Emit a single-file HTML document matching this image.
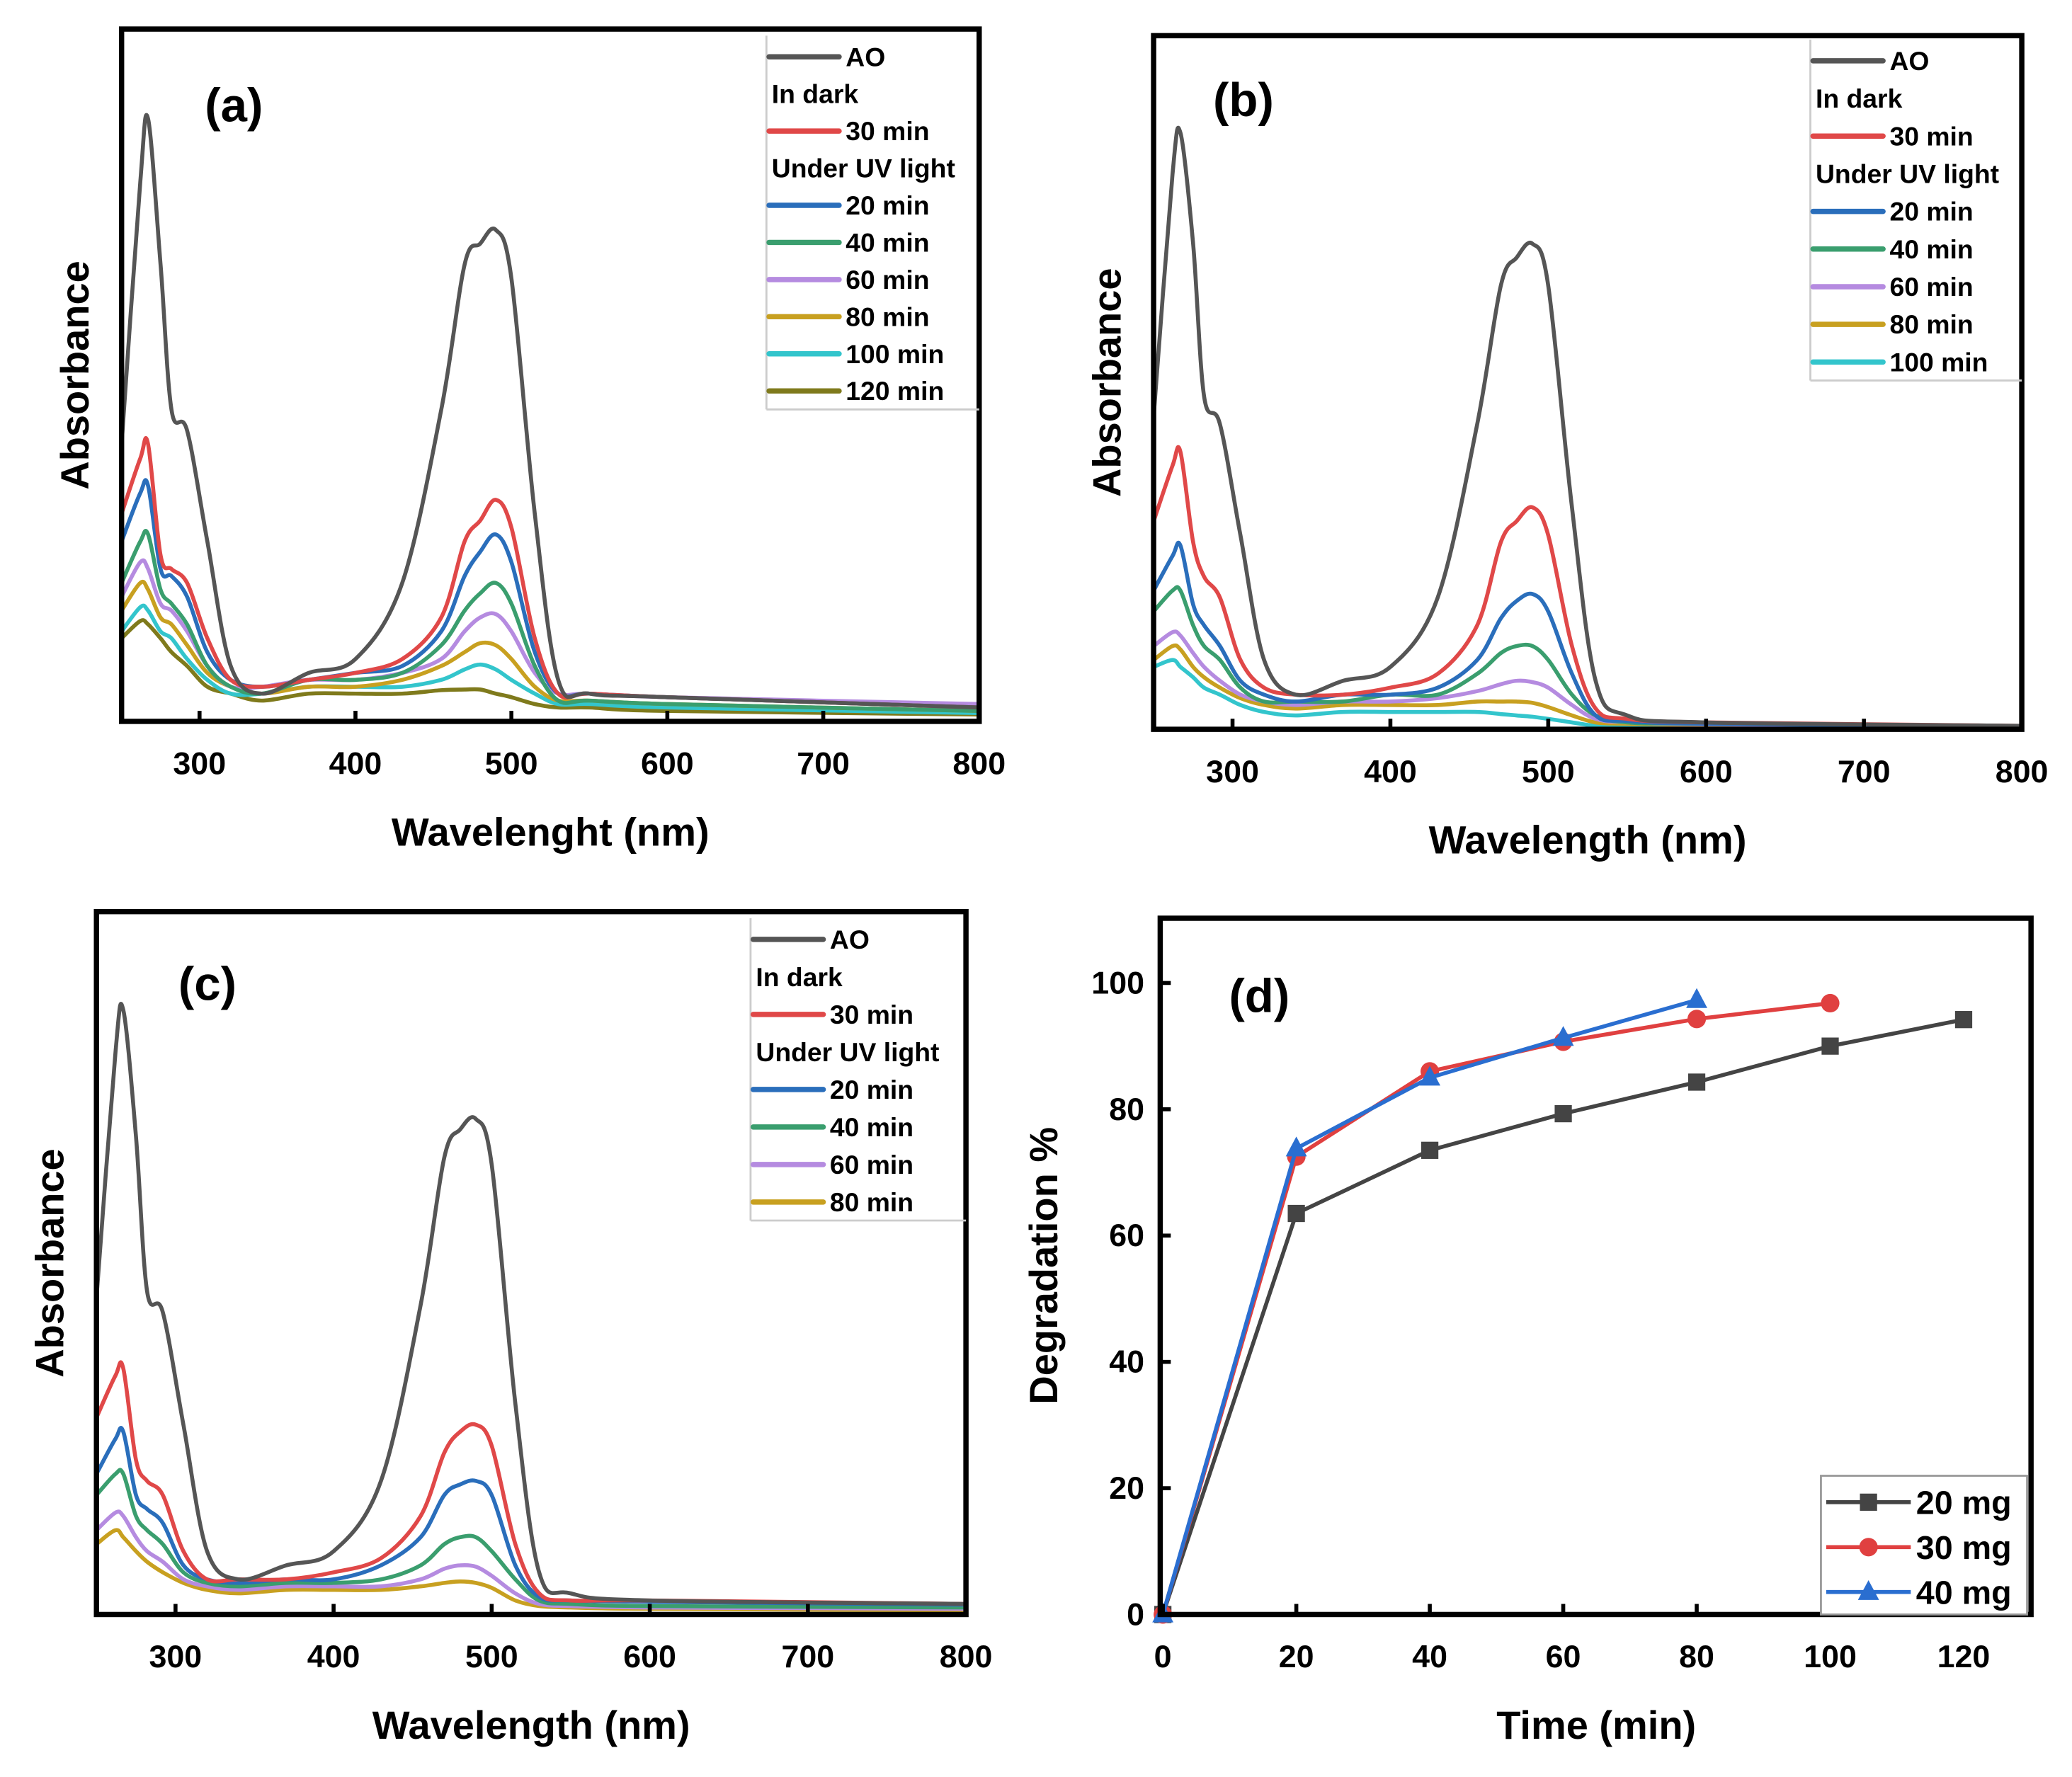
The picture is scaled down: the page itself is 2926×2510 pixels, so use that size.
<!DOCTYPE html>
<html><head><meta charset="utf-8"><style>
html,body{margin:0;padding:0;background:#fff;}
svg{display:block;font-family:"Liberation Sans",Arial,sans-serif;font-weight:bold;}
</style></head><body>
<svg id="fig" width="2926" height="2510" viewBox="0 0 1568 1345" preserveAspectRatio="none" xmlns="http://www.w3.org/2000/svg"></svg>
<script>
// ---- spectra data (relative absorbance 0..1 of frame height) ----
const wl = [250,262,267,275,282,292,305,320,340,370,400,430,455,470,480,490,500,515,530,550,600,800];
const absA_AO  = [0.40,0.78,0.87,0.66,0.45,0.42,0.26,0.08,0.04,0.07,0.09,0.20,0.45,0.66,0.69,0.71,0.64,0.30,0.06,0.04,0.035,0.02];
const absA_30  = [0.30,0.38,0.40,0.24,0.22,0.20,0.12,0.06,0.05,0.06,0.07,0.09,0.15,0.26,0.29,0.32,0.28,0.12,0.04,0.04,0.035,0.02];
const absA_20  = [0.26,0.33,0.34,0.22,0.21,0.18,0.10,0.06,0.05,0.06,0.07,0.08,0.13,0.21,0.245,0.27,0.23,0.10,0.04,0.04,0.035,0.02];
const absA_40  = [0.20,0.26,0.27,0.19,0.17,0.14,0.08,0.05,0.04,0.06,0.06,0.07,0.11,0.16,0.185,0.20,0.17,0.08,0.03,0.03,0.025,0.015];
const absA_60  = [0.18,0.23,0.22,0.17,0.16,0.13,0.08,0.05,0.05,0.06,0.06,0.07,0.09,0.13,0.15,0.155,0.13,0.07,0.04,0.04,0.035,0.025];
const absA_80  = [0.16,0.20,0.19,0.15,0.14,0.11,0.07,0.05,0.04,0.05,0.05,0.06,0.08,0.10,0.113,0.11,0.09,0.05,0.03,0.03,0.025,0.015];
const absA_100 = [0.13,0.165,0.16,0.13,0.12,0.09,0.06,0.04,0.04,0.05,0.05,0.05,0.06,0.075,0.082,0.075,0.06,0.04,0.025,0.025,0.02,0.012];
const absA_120 = [0.12,0.145,0.14,0.12,0.10,0.08,0.05,0.04,0.03,0.04,0.04,0.04,0.045,0.046,0.046,0.04,0.035,0.025,0.02,0.02,0.015,0.01];

const absB_AO  = [0.45,0.80,0.86,0.70,0.48,0.44,0.28,0.10,0.05,0.07,0.09,0.19,0.44,0.64,0.68,0.70,0.64,0.32,0.07,0.02,0.01,0.005];
const absB_30  = [0.30,0.38,0.40,0.27,0.22,0.19,0.10,0.06,0.05,0.05,0.06,0.08,0.15,0.27,0.30,0.32,0.28,0.12,0.03,0.015,0.01,0.005];
const absB_20  = [0.20,0.25,0.265,0.18,0.15,0.12,0.07,0.05,0.04,0.05,0.05,0.06,0.10,0.16,0.185,0.195,0.17,0.08,0.02,0.012,0.008,0.004];
const absB_40  = [0.17,0.20,0.20,0.15,0.12,0.10,0.06,0.04,0.04,0.04,0.05,0.05,0.08,0.11,0.12,0.12,0.10,0.05,0.02,0.01,0.008,0.004];
const absB_60  = [0.12,0.14,0.135,0.11,0.09,0.07,0.05,0.04,0.035,0.04,0.04,0.045,0.055,0.065,0.07,0.068,0.06,0.035,0.015,0.01,0.007,0.004];
const absB_80  = [0.10,0.12,0.115,0.09,0.075,0.06,0.045,0.035,0.03,0.035,0.035,0.035,0.04,0.04,0.04,0.038,0.032,0.02,0.01,0.008,0.006,0.003];
const absB_100 = [0.09,0.10,0.09,0.075,0.06,0.05,0.035,0.025,0.02,0.025,0.025,0.025,0.025,0.022,0.02,0.018,0.015,0.01,0.005,0.004,0.003,0.002];

const absC_AO  = [0.45,0.80,0.86,0.68,0.46,0.43,0.27,0.09,0.05,0.07,0.09,0.19,0.44,0.65,0.69,0.705,0.64,0.30,0.06,0.03,0.02,0.015];
const absC_30  = [0.28,0.34,0.35,0.22,0.19,0.17,0.09,0.05,0.05,0.05,0.06,0.08,0.14,0.23,0.26,0.27,0.24,0.10,0.03,0.02,0.02,0.015];
const absC_20  = [0.20,0.25,0.26,0.17,0.15,0.13,0.07,0.05,0.045,0.05,0.05,0.07,0.11,0.17,0.185,0.19,0.17,0.07,0.025,0.02,0.018,0.014];
const absC_40  = [0.17,0.20,0.20,0.14,0.12,0.10,0.06,0.045,0.04,0.045,0.045,0.05,0.07,0.10,0.11,0.11,0.09,0.05,0.02,0.015,0.012,0.01];
const absC_60  = [0.12,0.145,0.14,0.11,0.09,0.075,0.05,0.04,0.035,0.04,0.04,0.04,0.05,0.065,0.07,0.068,0.055,0.03,0.015,0.012,0.01,0.008];
const absC_80  = [0.10,0.12,0.11,0.09,0.075,0.06,0.045,0.035,0.03,0.035,0.035,0.035,0.04,0.045,0.047,0.045,0.038,0.02,0.012,0.01,0.008,0.006];

// ---- degradation data ----
const timeCats = [0,20,40,60,80,100,120];
const deg20 = [0,63.5,73.5,79.3,84.3,90,94.2];
const deg30 = [0,72.5,86,90.7,94.3,96.8];
const deg40 = [0,73.8,85,91.3,97.3];
const wlTicks = [300,400,500,600,700,800];
const dXTicks = [0,20,40,60,80,100,120];
const dYTicks = [0,20,40,60,80,100];

const colors = {AO:"#555555","30":"#e04848","20":"#2a6ebb","40":"#3a9e6e","60":"#b58be0","80":"#c8a020","100":"#33c5cc","120":"#7f7a1c"};
const NS="http://www.w3.org/2000/svg";
const svg=document.getElementById('fig');
function mk(tag,attrs,parent,text){const e=document.createElementNS(NS,tag);for(const k in attrs)e.setAttribute(k,attrs[k]);if(text!==undefined)e.textContent=text;(parent||svg).appendChild(e);return e;}
function smoothPath(P){
  let d='M'+P[0][0].toFixed(1)+','+P[0][1].toFixed(1);
  for(let i=0;i<P.length-1;i++){
    const p0=P[i-1]||P[i],p1=P[i],p2=P[i+1],p3=P[i+2]||P[i+1];
    const c1=[p1[0]+(p2[0]-p0[0])/6,p1[1]+(p2[1]-p0[1])/6];
    const c2=[p2[0]-(p3[0]-p1[0])/6,p2[1]-(p3[1]-p1[1])/6];
    d+=' C'+c1[0].toFixed(1)+','+c1[1].toFixed(1)+' '+c2[0].toFixed(1)+','+c2[1].toFixed(1)+' '+p2[0].toFixed(1)+','+p2[1].toFixed(1);
  }
  return d;
}

function spectrumPanel(p){
  const g=mk('g',{});
  
  
  const xs=v=>p.x0+(v-250)/550*(p.x1-p.x0);
  const ys=v=>p.y1-v*(p.y1-p.y0);
  const cp=mk('clipPath',{id:'clip'+p.id},g);
  mk('rect',{x:p.x0,y:p.y0,width:p.x1-p.x0,height:p.y1-p.y0},cp);
  p.series.forEach(s=>{
    const P=wl.map((w,i)=>[xs(w),ys(s.vals[i])]);
    const l=mk('path',{d:smoothPath(P),fill:'none',stroke:s.color,'stroke-width':3,'stroke-linejoin':'round','clip-path':'url(#clip'+p.id+')'},g);
    
    
  });
  const fr=mk('rect',{x:p.x0,y:p.y0,width:p.x1-p.x0,height:p.y1-p.y0,fill:'none',stroke:'#000','stroke-width':4},g);
  
  
  wlTicks.forEach(t=>{
    const x=xs(t);
    mk('line',{x1:x,x2:x,y1:p.y1,y2:p.y1-8,stroke:'#000','stroke-width':3},g);
    const tl=mk('text',{x:x,y:p.y1+40,'font-size':24,'text-anchor':'middle'},g,String(t));
    
    
  });
  const xt=mk('text',{x:(p.x0+p.x1)/2+p.titleDx,y:p.y1+94,'font-size':30,'text-anchor':'middle'},g,p.xtitle);
  
  
  const yc=(p.y0+p.y1)/2;
  const yt=mk('text',{x:p.x0-25,y:yc,'font-size':30,'text-anchor':'middle',transform:'rotate(-90 '+(p.x0-25)+' '+yc+')'},g,'Absorbance');
  
  
  const pl=mk('text',{x:p.lx,y:p.ly,'font-size':36},g,p.label);
  
  
  const lg=mk('g',{},g);
  
  
  const n=p.legend.length;
  mk('line',{x1:p.legX-2,x2:p.legX-2,y1:p.legY-16,y2:p.legY+p.pitch*(n-1)+14,stroke:'#ccc','stroke-width':1.5},lg);
  mk('line',{x1:p.legX-2,x2:p.x1,y1:p.legY+p.pitch*(n-1)+14,y2:p.legY+p.pitch*(n-1)+14,stroke:'#ccc','stroke-width':1.5},lg);
  p.legend.forEach((e,i)=>{
    const y=p.legY+i*p.pitch;
    if(e.color){
      mk('line',{x1:p.legX,x2:p.legX+53,y1:y,y2:y,stroke:e.color,'stroke-width':4,'stroke-linecap':'round'},lg);
      const t=mk('text',{x:p.legX+58,y:y+7,'font-size':20},lg,e.text);
      
      
    }else{
      const t=mk('text',{x:p.legX+2,y:y+7,'font-size':20},lg,e.text);
      
      
    }
  });
}
const C=colors;
function leg(keys){const out=[{text:'AO',color:C.AO},{text:'In dark'},{text:'30 min',color:C['30']},{text:'Under UV light'}];keys.forEach(k=>out.push({text:k+' min',color:C[k]}));return out;}

spectrumPanel({id:'a',x0:92,x1:741,y0:22,y1:546,xtitle:'Wavelenght (nm)',titleDx:0,label:'(a)',lx:155,ly:92,legX:582,legY:43,pitch:28.1,
  legend:leg(['20','40','60','80','100','120']),
  series:[{name:'120 min',color:C['120'],vals:absA_120},{name:'100 min',color:C['100'],vals:absA_100},{name:'80 min',color:C['80'],vals:absA_80},{name:'60 min',color:C['60'],vals:absA_60},{name:'40 min',color:C['40'],vals:absA_40},{name:'20 min',color:C['20'],vals:absA_20},{name:'30 min',color:C['30'],vals:absA_30},{name:'AO',color:C.AO,vals:absA_AO}]});
spectrumPanel({id:'b',x0:873,x1:1530,y0:27,y1:552,xtitle:'Wavelength (nm)',titleDx:0,label:'(b)',lx:918,ly:88,legX:1372,legY:46,pitch:28.5,
  legend:leg(['20','40','60','80','100']),
  series:[{name:'100 min',color:C['100'],vals:absB_100},{name:'80 min',color:C['80'],vals:absB_80},{name:'60 min',color:C['60'],vals:absB_60},{name:'40 min',color:C['40'],vals:absB_40},{name:'20 min',color:C['20'],vals:absB_20},{name:'30 min',color:C['30'],vals:absB_30},{name:'AO',color:C.AO,vals:absB_AO}]});
spectrumPanel({id:'c',x0:73,x1:731,y0:690,y1:1222,xtitle:'Wavelength (nm)',titleDx:0,label:'(c)',lx:135,ly:757,legX:570,legY:711,pitch:28.4,
  legend:leg(['20','40','60','80']),
  series:[{name:'80 min',color:C['80'],vals:absC_80},{name:'60 min',color:C['60'],vals:absC_60},{name:'40 min',color:C['40'],vals:absC_40},{name:'20 min',color:C['20'],vals:absC_20},{name:'30 min',color:C['30'],vals:absC_30},{name:'AO',color:C.AO,vals:absC_AO}]});

// ---- panel d ----
(function(){
  const g=mk('g',{});
  
  
  const X0=878,X1=1537,Y0=695,Y1=1222;
  const xs=v=>880+v*(1486-880)/120;
  const ys=v=>1222-v*(1222-744)/100;
  const sets=[{name:'20 mg',vals:deg20,color:'#444',marker:'square'},{name:'30 mg',vals:deg30,color:'#e04040',marker:'circle'},{name:'40 mg',vals:deg40,color:'#2a6ed0',marker:'triangle'}];
  function marker(type,x,y,color,parent){
    let m;
    if(type==='square')m=mk('rect',{x:x-6.5,y:y-6.5,width:13,height:13,fill:color},parent);
    else if(type==='circle')m=mk('circle',{cx:x,cy:y,r:7,fill:color},parent);
    else m=mk('polygon',{points:`${x},${y-9} ${x+8},${y+6} ${x-8},${y+6}`,fill:color},parent);
    return m;
  }
  sets.forEach(s=>{
    const pts=s.vals.map((v,i)=>xs(timeCats[i])+','+ys(v)).join(' ');
    const l=mk('polyline',{points:pts,fill:'none',stroke:s.color,'stroke-width':3},g);
    
    
    s.vals.forEach((v,i)=>{
      const m=marker(s.marker,xs(timeCats[i]),ys(v),s.color,g);
      
      
    });
  });
  const fr=mk('rect',{x:X0,y:Y0,width:X1-X0,height:Y1-Y0,fill:'none',stroke:'#000','stroke-width':4},g);
  
  
  dXTicks.forEach(t=>{
    const x=xs(t);
    mk('line',{x1:x,x2:x,y1:Y1,y2:Y1-8,stroke:'#000','stroke-width':3},g);
    const tl=mk('text',{x:x,y:Y1+40,'font-size':24,'text-anchor':'middle'},g,String(t));
    
    
  });
  dYTicks.forEach(t=>{
    const y=ys(t);
    mk('line',{x1:X0,x2:X0+8,y1:y,y2:y,stroke:'#000','stroke-width':3},g);
    const tl=mk('text',{x:X0-12,y:y+8,'font-size':24,'text-anchor':'end'},g,String(t));
    
    
  });
  const xt=mk('text',{x:1208,y:1316,'font-size':30,'text-anchor':'middle'},g,'Time (min)');
  
  
  const yt=mk('text',{x:800,y:958,'font-size':30,'text-anchor':'middle',transform:'rotate(-90 800 958)'},g,'Degradation %');
  
  
  const pl=mk('text',{x:930,y:766,'font-size':36},g,'(d)');
  
  
  const lg=mk('g',{},g);
  
  
  mk('rect',{x:1378,y:1117,width:156,height:105,fill:'#fff',stroke:'#999','stroke-width':1.5},lg);
  sets.forEach((s,i)=>{
    const y=1137+i*34;
    mk('line',{x1:1382,x2:1446,y1:y,y2:y,stroke:s.color,'stroke-width':3},lg);
    marker(s.marker,1414,y,s.color,lg);
    const t=mk('text',{x:1450,y:y+9,'font-size':25},lg,s.name);
    
    
  });
})();
</script>
</body></html>
